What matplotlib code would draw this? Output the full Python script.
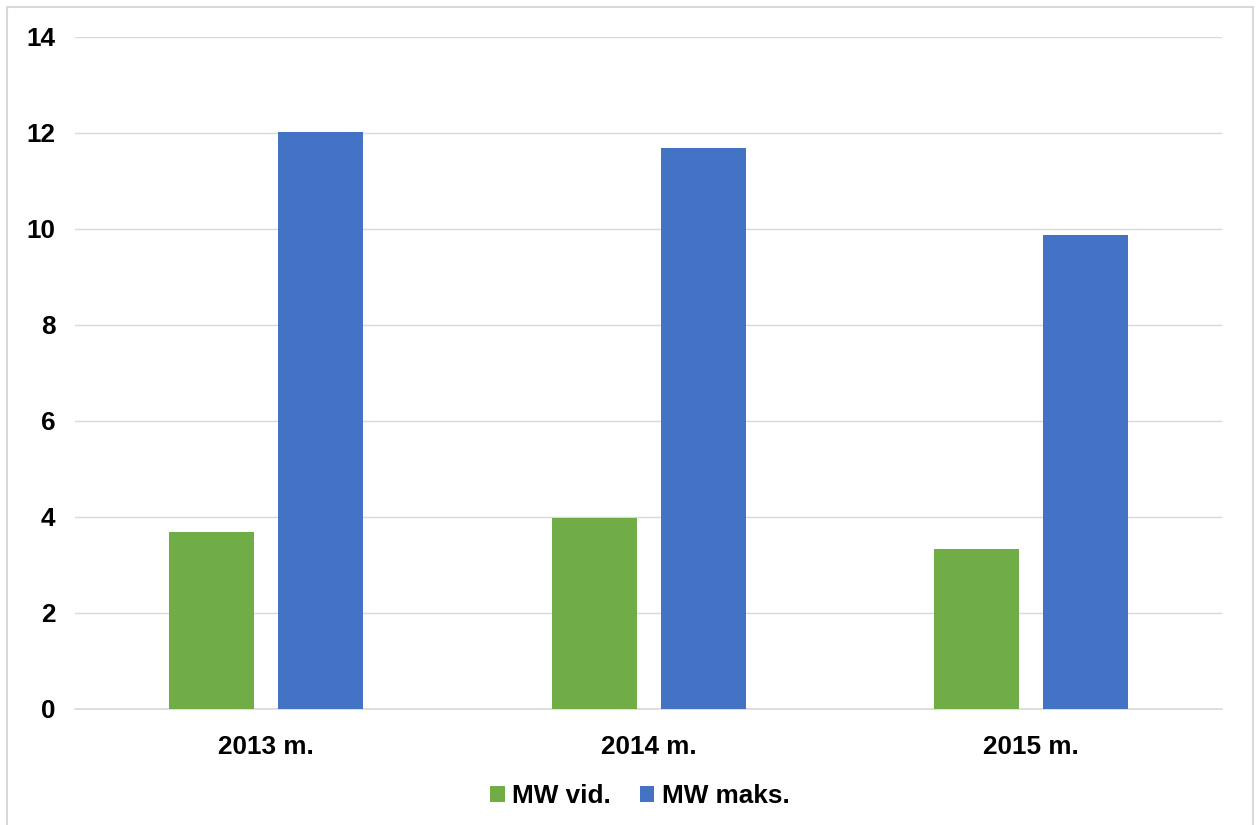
import matplotlib.pyplot as plt
from matplotlib.patches import Rectangle
import numpy as np

plt.rcParams['font.family'] = ['Liberation Sans', 'DejaVu Sans']
plt.rcParams['font.weight'] = 'bold'

years = ['2013 m.', '2014 m.', '2015 m.']
mw_vid = [3.69, 3.98, 3.33]
mw_maks = [12.02, 11.69, 9.88]

green = '#70AD47'
blue = '#4472C4'

fig = plt.figure(figsize=(12.59, 8.25), dpi=100)
ax = fig.add_axes([75 / 1259, 1 - 709 / 825, (1222 - 75) / 1259, (709 - 37) / 825])

x = np.arange(len(years))
w = 0.222
ax.bar(x - 0.142, mw_vid, w, color=green, label='MW vid.', zorder=3)
ax.bar(x + 0.143, mw_maks, w, color=blue, label='MW maks.', zorder=3)

ax.set_xlim(-0.5, 2.5)
ax.set_ylim(0, 14)
ax.set_yticks(range(0, 15, 2))
ax.set_xticks(x)
ax.set_xticklabels(years)
ax.grid(axis='y', color='#d9d9d9', linewidth=1.0, zorder=0)
for s in ['top', 'right', 'left']:
    ax.spines[s].set_visible(False)
ax.spines['bottom'].set_color('#d9d9d9')
ax.spines['bottom'].set_linewidth(1.2)
ax.tick_params(length=0, labelsize=18.8, colors='black')
ax.tick_params(axis='x', pad=19)
ax.tick_params(axis='y', pad=14)

leg = fig.legend(loc='center', bbox_to_anchor=(640 / 1259, 1 - 796 / 825), ncol=2,
                 frameon=False, fontsize=18.8, handlelength=0.55, handleheight=0.55,
                 handletextpad=0.3, columnspacing=1.1)

fig.patches.append(Rectangle((7 / 1259, -0.01), (1253 - 7) / 1259, 1 - 7 / 825 + 0.01,
                             transform=fig.transFigure, fill=False,
                             edgecolor='#d9d9d9', linewidth=1.5))

fig.savefig('out.png', dpi=100)
